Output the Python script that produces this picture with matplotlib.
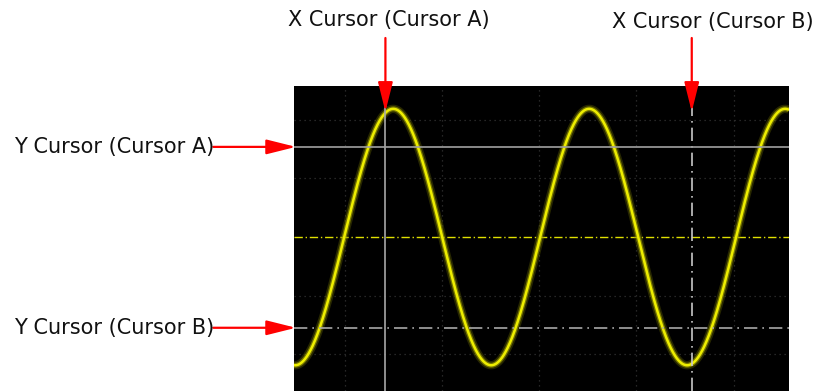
import numpy as np
import matplotlib.pyplot as plt

# screen, in divisions (1 div = grid spacing)
x_view = [-2.52, 2.57]
y_view = [-2.63, 2.58]

# sine trace: amplitude (div), period (div), position of a peak (div)
amplitude = 2.19
period = 2.015
peak_at = -1.50

# cursor positions (div)
x_cursor_a = -1.58
x_cursor_b = 1.57
y_cursor_a = 1.54
y_cursor_b = -1.55
trig_level = 0.0

grid_x = [-2, -1, 0, 1, 2]
grid_y = [-2, -1, 1, 2]

labels = ["X Cursor (Cursor A)", "X Cursor (Cursor B)",
          "Y Cursor (Cursor A)", "Y Cursor (Cursor B)"]

W, H = 817, 391
fig = plt.figure(figsize=(W / 100, H / 100), dpi=100)
fig.patch.set_facecolor('white')

ax = fig.add_axes([294 / W, 0, (789 - 294) / W, (391 - 86) / H])
ax.set_facecolor('black')
ax.set_xlim(x_view)
ax.set_ylim(y_view)
ax.set_xticks([])
ax.set_yticks([])
for s in ax.spines.values():
    s.set_visible(False)

# grid
for gx in grid_x:
    ax.axvline(gx, color='#333333', lw=0.9, ls=(0, (1, 3)), zorder=1)
for gy in grid_y:
    ax.axhline(gy, color='#333333', lw=0.9, ls=(0, (1, 3)), zorder=1)

# trigger level
ax.axhline(trig_level, color='#e0e000', lw=1.0, ls=(0, (6, 2, 1, 2)), zorder=2)

# trace with glow
t = np.linspace(x_view[0], x_view[1], 1500)
v = amplitude * np.cos(2 * np.pi * (t - peak_at) / period)
ax.plot(t, v, color='#707000', lw=6.0, alpha=0.35, zorder=3, solid_capstyle='butt')
ax.plot(t, v, color='#a8a800', lw=3.6, alpha=0.6, zorder=3, solid_capstyle='butt')
ax.plot(t, v, color='#eeee00', lw=1.8, zorder=4, solid_capstyle='butt')

# cursors
ax.axvline(x_cursor_a, color='#a8a8a8', lw=1.2, zorder=5)
ax.axvline(x_cursor_b, color='#c8c8c8', lw=1.2, ls=(0, (8, 3, 1, 3)), zorder=5)
ax.axhline(y_cursor_a, color='#a0a0a0', lw=1.2, zorder=5)
ax.axhline(y_cursor_b, color='#a8a8a8', lw=1.2, ls=(0, (8, 3, 1, 3)), zorder=5)

# red arrows
arrow = dict(arrowstyle='-|>,head_length=1.8,head_width=0.45', color='#ff0000',
             lw=1.6, mutation_scale=10, shrinkA=0, shrinkB=0)
ax.annotate('', xy=(x_cursor_a, 2.14), xytext=(x_cursor_a, 3.40),
            arrowprops=arrow, annotation_clip=False, zorder=6)
ax.annotate('', xy=(x_cursor_b, 2.14), xytext=(x_cursor_b, 3.40),
            arrowprops=arrow, annotation_clip=False, zorder=6)
ax.annotate('', xy=(-2.50, y_cursor_a), xytext=(-3.35, y_cursor_a),
            arrowprops=arrow, annotation_clip=False, zorder=6)
ax.annotate('', xy=(-2.50, y_cursor_b), xytext=(-3.35, y_cursor_b),
            arrowprops=arrow, annotation_clip=False, zorder=6)

# labels
fs = 15
fig.text(389 / W, 1 - 20 / H, labels[0], ha='center', va='center', fontsize=fs, color='#111111')
fig.text(713 / W, 1 - 22 / H, labels[1], ha='center', va='center', fontsize=fs, color='#111111')
fig.text(214 / W, 1 - 147 / H, labels[2], ha='right', va='center', fontsize=fs, color='#111111')
fig.text(214 / W, 1 - 328 / H, labels[3], ha='right', va='center', fontsize=fs, color='#111111')

fig.savefig('out.png', dpi=100, facecolor='white')
